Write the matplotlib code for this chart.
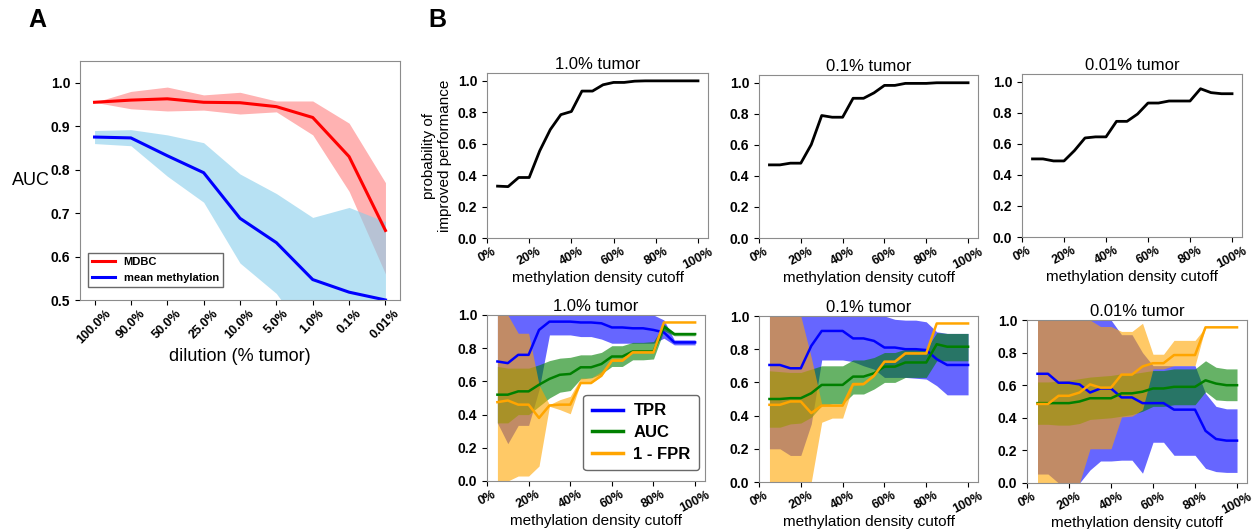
import matplotlib
matplotlib.use("Agg")
import matplotlib.pyplot as plt
from matplotlib.ticker import PercentFormatter

plt.rcParams['font.family'] = ['Liberation Sans', 'DejaVu Sans']

# ---- panel A data ----
dilutions = ["100.0%", "90.0%", "50.0%", "25.0%", "10.0%", "5.0%", "1.0%", "0.1%", "0.01%"]
mdbc = [0.955, 0.96, 0.963, 0.955, 0.954, 0.945, 0.92, 0.83, 0.66]
mdbc_hi = [0.955, 0.98, 0.99, 0.972, 0.978, 0.958, 0.958, 0.907, 0.77]
mdbc_lo = [0.955, 0.94, 0.935, 0.937, 0.928, 0.933, 0.88, 0.75, 0.56]
meanmeth = [0.875, 0.873, 0.832, 0.793, 0.688, 0.632, 0.547, 0.518, 0.5]
meanmeth_hi = [0.89, 0.892, 0.88, 0.862, 0.79, 0.745, 0.69, 0.713, 0.68]
meanmeth_lo = [0.86, 0.855, 0.785, 0.725, 0.585, 0.515, 0.40, 0.35, 0.32]

# ---- panel B data: methylation density cutoff (%) ----
cutoffs = [5, 10, 15, 20, 25, 30, 35, 40, 45, 50, 55, 60, 65, 70, 75, 80, 85, 90, 95, 100]
tumor_titles = ["1.0% tumor", "0.1% tumor", "0.01% tumor"]

prob_10 = [0.33, 0.327, 0.385, 0.385, 0.555, 0.69, 0.785, 0.805, 0.935, 0.935,
           0.975, 0.99, 0.99, 0.998, 1.0, 1.0, 1.0, 1.0, 1.0, 1.0]
prob_01 = [0.471, 0.471, 0.482, 0.482, 0.602, 0.789, 0.778, 0.778, 0.9, 0.9,
           0.935, 0.983, 0.983, 0.996, 0.996, 0.996, 1.0, 1.0, 1.0, 1.0]
prob_001 = [0.503, 0.503, 0.49, 0.49, 0.557, 0.638, 0.645, 0.645, 0.745, 0.745,
            0.792, 0.863, 0.863, 0.876, 0.876, 0.876, 0.955, 0.93, 0.923, 0.923]

# 1.0% tumor
tpr_10 = [0.72, 0.71, 0.76, 0.76, 0.91, 0.96, 0.96, 0.96, 0.955, 0.955, 0.95, 0.925, 0.925, 0.92, 0.92, 0.91, 0.895, 0.835, 0.835, 0.835]
tpr_10_hi = [1, 1, 1, 1, 1, 1, 1, 1, 1, 1, 1, 1, 1, 1, 1, 1, 0.97, 0.85, 0.85, 0.85]
tpr_10_lo = [0.35, 0.225, 0.335, 0.335, 0.55, 0.88, 0.88, 0.88, 0.87, 0.87, 0.855, 0.83, 0.83, 0.83, 0.83, 0.83, 0.86, 0.82, 0.82, 0.82]
auc_10 = [0.52, 0.52, 0.54, 0.54, 0.58, 0.615, 0.64, 0.645, 0.685, 0.685, 0.705, 0.75, 0.75, 0.78, 0.78, 0.78, 0.93, 0.885, 0.885, 0.885]
auc_10_hi = [0.69, 0.68, 0.68, 0.68, 0.70, 0.725, 0.74, 0.745, 0.76, 0.76, 0.775, 0.815, 0.815, 0.835, 0.835, 0.84, 0.945, 0.895, 0.895, 0.895]
auc_10_lo = [0.35, 0.35, 0.40, 0.40, 0.45, 0.50, 0.535, 0.545, 0.615, 0.62, 0.645, 0.69, 0.69, 0.73, 0.73, 0.735, 0.905, 0.875, 0.875, 0.875]
fpr_10 = [0.475, 0.485, 0.46, 0.46, 0.38, 0.455, 0.46, 0.46, 0.59, 0.59, 0.635, 0.725, 0.725, 0.775, 0.775, 0.775, 0.955, 0.955, 0.955, 0.955]
fpr_10_hi = [1, 1, 0.89, 0.89, 0.58, 0.46, 0.49, 0.51, 0.62, 0.62, 0.66, 0.74, 0.74, 0.79, 0.79, 0.79, 0.955, 0.955, 0.955, 0.955]
fpr_10_lo = [0, 0, 0.03, 0.03, 0.09, 0.45, 0.43, 0.405, 0.59, 0.59, 0.63, 0.72, 0.72, 0.77, 0.77, 0.77, 0.955, 0.955, 0.955, 0.955]

# 0.1% tumor
tpr_01 = [0.705, 0.705, 0.685, 0.685, 0.82, 0.91, 0.91, 0.91, 0.865, 0.865, 0.85, 0.81, 0.81, 0.80, 0.80, 0.795, 0.74, 0.705, 0.705, 0.705]
tpr_01_hi = [1, 1, 1, 1, 1, 1, 1, 1, 1, 1, 1, 1, 0.98, 0.975, 0.975, 0.965, 0.905, 0.895, 0.895, 0.895]
tpr_01_lo = [0.20, 0.20, 0.16, 0.16, 0.35, 0.735, 0.735, 0.735, 0.725, 0.70, 0.68, 0.63, 0.63, 0.63, 0.625, 0.62, 0.58, 0.525, 0.525, 0.525]
auc_01 = [0.50, 0.50, 0.505, 0.505, 0.535, 0.585, 0.585, 0.585, 0.635, 0.635, 0.655, 0.695, 0.695, 0.72, 0.72, 0.72, 0.83, 0.815, 0.815, 0.815]
auc_01_hi = [0.67, 0.665, 0.66, 0.66, 0.68, 0.70, 0.70, 0.70, 0.735, 0.735, 0.75, 0.78, 0.78, 0.80, 0.80, 0.80, 0.90, 0.895, 0.895, 0.895]
auc_01_lo = [0.33, 0.33, 0.35, 0.355, 0.39, 0.46, 0.47, 0.47, 0.53, 0.53, 0.56, 0.60, 0.60, 0.63, 0.63, 0.63, 0.73, 0.73, 0.73, 0.73]
fpr_01 = [0.465, 0.465, 0.485, 0.485, 0.415, 0.46, 0.46, 0.46, 0.59, 0.59, 0.64, 0.725, 0.725, 0.775, 0.775, 0.775, 0.955, 0.955, 0.955, 0.955]
fpr_01_hi = [1, 1, 1, 1, 0.75, 0.47, 0.47, 0.47, 0.60, 0.60, 0.645, 0.73, 0.73, 0.78, 0.78, 0.78, 0.955, 0.955, 0.955, 0.955]
fpr_01_lo = [0, 0, 0, 0, 0, 0.36, 0.385, 0.385, 0.58, 0.585, 0.635, 0.72, 0.72, 0.77, 0.77, 0.77, 0.955, 0.955, 0.955, 0.955]

# 0.01% tumor
tpr_001 = [0.67, 0.67, 0.615, 0.615, 0.605, 0.555, 0.58, 0.58, 0.525, 0.525, 0.49, 0.49, 0.49, 0.45, 0.45, 0.45, 0.32, 0.27, 0.26, 0.26]
tpr_001_hi = [1, 1, 1, 1, 1, 1, 1, 1, 0.91, 0.91, 0.80, 0.72, 0.72, 0.72, 0.72, 0.72, 0.55, 0.47, 0.455, 0.455]
tpr_001_lo = [0.055, 0.055, 0, 0, 0, 0.08, 0.135, 0.135, 0.14, 0.14, 0.06, 0.25, 0.25, 0.17, 0.17, 0.17, 0.09, 0.07, 0.065, 0.065]
auc_001 = [0.49, 0.49, 0.49, 0.49, 0.50, 0.52, 0.52, 0.52, 0.55, 0.55, 0.56, 0.58, 0.58, 0.59, 0.59, 0.59, 0.63, 0.61, 0.60, 0.60]
auc_001_hi = [0.62, 0.62, 0.625, 0.63, 0.64, 0.65, 0.655, 0.66, 0.67, 0.67, 0.68, 0.69, 0.69, 0.70, 0.70, 0.70, 0.75, 0.71, 0.70, 0.70]
auc_001_lo = [0.36, 0.36, 0.355, 0.355, 0.365, 0.39, 0.395, 0.40, 0.41, 0.42, 0.44, 0.47, 0.47, 0.48, 0.48, 0.48, 0.56, 0.51, 0.505, 0.505]
fpr_001 = [0.485, 0.485, 0.535, 0.535, 0.555, 0.605, 0.585, 0.585, 0.665, 0.665, 0.715, 0.735, 0.735, 0.785, 0.785, 0.785, 0.955, 0.955, 0.955, 0.955]
fpr_001_hi = [1, 1, 1, 1, 1, 1, 0.96, 0.96, 0.93, 0.93, 0.98, 0.79, 0.79, 0.875, 0.875, 0.875, 0.955, 0.955, 0.955, 0.955]
fpr_001_lo = [0, 0, 0, 0, 0, 0.21, 0.21, 0.21, 0.405, 0.41, 0.45, 0.70, 0.70, 0.72, 0.72, 0.72, 0.955, 0.955, 0.955, 0.955]

W, H = 1253, 529


def box(x0, y0, x1, y1):
    # pixel box -> figure fraction
    return [x0 / W, 1 - y1 / H, (x1 - x0) / W, (y1 - y0) / H]


def style_axes(ax, xsize=9):
    for s in ax.spines.values():
        s.set_color("#8c8c8c")
    for lab in ax.get_xticklabels():
        lab.set_fontweight("bold")
        lab.set_fontsize(xsize)
    for lab in ax.get_yticklabels():
        lab.set_fontweight("bold")
        lab.set_fontsize(10)
    ax.tick_params(axis="x", pad=2)


def pct_axis(ax):
    ax.set_xticks([0, 20, 40, 60, 80, 100])
    ax.xaxis.set_major_formatter(PercentFormatter(decimals=0))
    ax.set_yticks([0, 0.2, 0.4, 0.6, 0.8, 1.0])
    plt.setp(ax.get_xticklabels(), rotation=28, ha="center")


fig = plt.figure(figsize=(12.53, 5.29), dpi=100)

# ---- Panel A ----
axA = fig.add_axes(box(80, 61, 400, 300))
xa = range(len(dilutions))
axA.fill_between(xa, mdbc_lo, mdbc_hi, color="red", alpha=0.3, linewidth=0)
axA.fill_between(xa, meanmeth_lo, meanmeth_hi, color="skyblue", alpha=0.6, linewidth=0)
axA.plot(xa, mdbc, color="red", lw=2.2, label="MDBC")
axA.plot(xa, meanmeth, color="blue", lw=2.2, label="mean methylation")
axA.set_xlim(-0.4, 8.4)
axA.set_ylim(0.5, 1.05)
axA.set_yticks([0.5, 0.6, 0.7, 0.8, 0.9, 1.0])
axA.set_xticks(list(xa))
axA.set_xticklabels(dilutions, rotation=45, ha="center")
axA.set_ylabel("AUC", rotation=0, fontsize=13, labelpad=14, va="center")
axA.set_xlabel("dilution (% tumor)", fontsize=13, labelpad=1)
axA.legend(loc="lower left", bbox_to_anchor=(8 / 320, 13 / 239), borderaxespad=0,
           prop={"weight": "bold", "size": 8}, edgecolor="#444444", fancybox=False)
style_axes(axA, xsize=9)

fig.text(37 / W, 1 - 20 / H, "A", fontsize=18, fontweight="bold", va="center", ha="center")
fig.text(437 / W, 1 - 20 / H, "B", fontsize=18, fontweight="bold", va="center", ha="center")

# ---- Panel B, top row ----
top_boxes = [(487, 73, 708, 238), (759, 75, 978, 238), (1022, 74, 1242, 237)]
probs = [prob_10, prob_01, prob_001]
for i, (b, pr, t) in enumerate(zip(top_boxes, probs, tumor_titles)):
    ax = fig.add_axes(box(*b))
    ax.plot(cutoffs, pr, color="black", lw=2)
    ax.set_ylim(0, 1.05)
    pct_axis(ax)
    ax.set_title(t, fontsize=12, pad=3)
    ax.set_xlabel("methylation density cutoff", fontsize=11, labelpad=0)
    if i == 0:
        ax.set_ylabel("probability of\nimproved performance", fontsize=11, labelpad=4)
    style_axes(ax)

# ---- Panel B, bottom row ----
bot_boxes = [(487, 315, 705, 481), (759, 316, 978, 482), (1027, 320, 1247, 483)]
series = [
    (tpr_10, tpr_10_lo, tpr_10_hi, auc_10, auc_10_lo, auc_10_hi, fpr_10, fpr_10_lo, fpr_10_hi),
    (tpr_01, tpr_01_lo, tpr_01_hi, auc_01, auc_01_lo, auc_01_hi, fpr_01, fpr_01_lo, fpr_01_hi),
    (tpr_001, tpr_001_lo, tpr_001_hi, auc_001, auc_001_lo, auc_001_hi, fpr_001, fpr_001_lo, fpr_001_hi),
]
for i, (b, s, t) in enumerate(zip(bot_boxes, series, tumor_titles)):
    tpr, tpr_lo, tpr_hi, auc, auc_lo, auc_hi, fpr, fpr_lo, fpr_hi = s
    ax = fig.add_axes(box(*b))
    ax.fill_between(cutoffs, tpr_lo, tpr_hi, color="blue", alpha=0.6, linewidth=0)
    ax.fill_between(cutoffs, auc_lo, auc_hi, color="green", alpha=0.6, linewidth=0)
    ax.fill_between(cutoffs, fpr_lo, fpr_hi, color="orange", alpha=0.6, linewidth=0)
    ax.plot(cutoffs, tpr, color="blue", lw=1.8, label="TPR")
    ax.plot(cutoffs, auc, color="green", lw=1.8, label="AUC")
    ax.plot(cutoffs, fpr, color="orange", lw=1.8, label="1 - FPR")
    ax.set_ylim(0, 1)
    pct_axis(ax)
    ax.set_title(t, fontsize=12, pad=3)
    ax.set_xlabel("methylation density cutoff", fontsize=11, labelpad=0)
    if i == 0:
        w = b[2] - b[0]
        h = b[3] - b[1]
        leg = ax.legend(loc="lower right", bbox_to_anchor=(1 - 6 / w, 11 / h), borderaxespad=0,
                        prop={"weight": "bold", "size": 12}, edgecolor="#444444",
                        handlelength=1.9, handletextpad=0.6, borderpad=0.5, labelspacing=0.4)
        for line in leg.get_lines():
            line.set_linewidth(2.5)
    style_axes(ax)

fig.savefig("out.png", dpi=100)
